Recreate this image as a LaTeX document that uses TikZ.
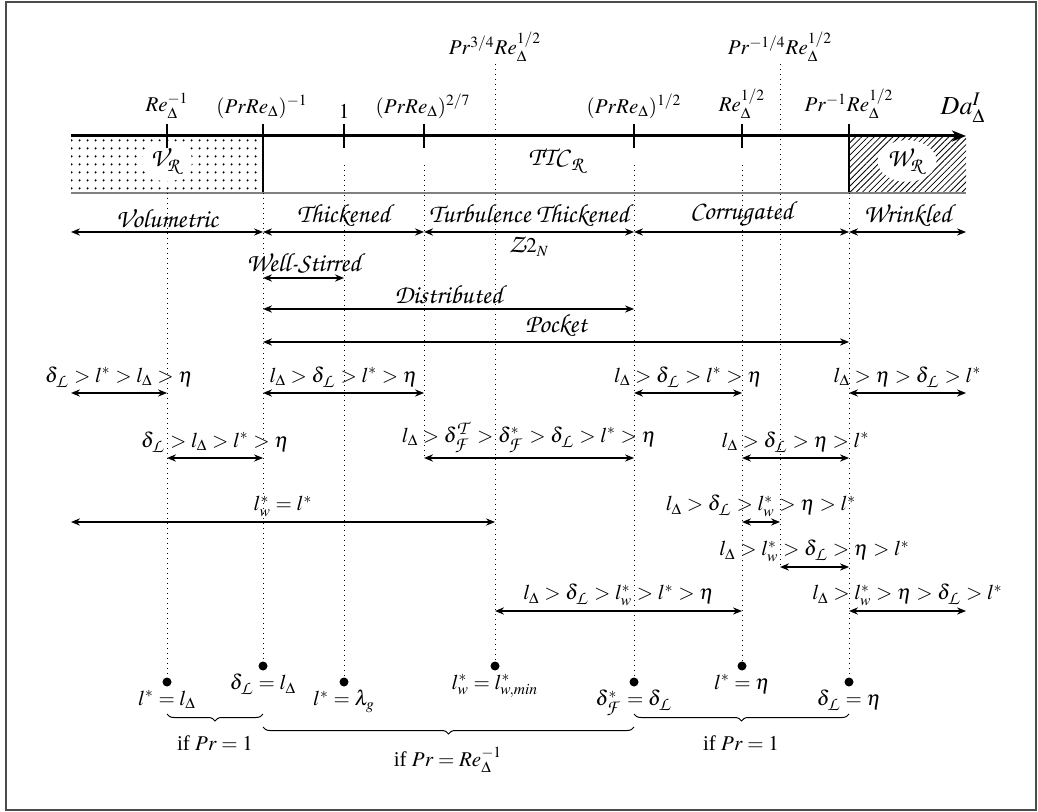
\documentclass[tikz,border=0pt]{standalone}
\usepackage{mathptmx}
\usepackage[no-math]{fontspec}
\setmainfont{Liberation Serif}
\usetikzlibrary{arrows.meta, decorations.pathreplacing, patterns.meta, shapes.geometric}
\DeclareFontFamily{OT1}{pzcx}{}
\DeclareFontShape{OT1}{pzcx}{m}{it}{<-> s*[1.25] pzcmi7t}{}
\DeclareMathAlphabet{\mathzc}{OT1}{pzcx}{m}{it}
\newcommand{\zctext}[1]{{\fontencoding{OT1}\fontfamily{pzcx}\fontseries{m}\fontshape{it}\selectfont #1}}

\begin{document}
\begin{tikzpicture}[x=0.5pt, y=-0.5pt,
    font=\fontsize{10.5}{12.6}\selectfont,
    >={Stealth[length=4.5pt, width=3.6pt, inset=1.5pt]},
    axisline/.style={line width=1.5pt, -{Stealth[length=7pt, width=5.5pt, inset=2pt]}},
    tickmark/.style={line width=1pt},
    guide/.style={dotted, line width=0.5pt},
    span/.style={<->, line width=0.6pt},
    rangelabel/.style={above, inner sep=2pt},
    condlabel/.style={above, inner sep=2.5pt},
    ticklabel/.style={anchor=south, inner sep=1pt},
    limitdot/.style={circle, fill, inner sep=0pt, minimum size=4.5pt},
    limitlabel/.style={anchor=north, inner sep=1.5pt},
    regime/.style={fill=white, ellipse, inner sep=0.5pt},
    cond/.style={decorate, decoration={brace, mirror, amplitude=3.5pt}, line width=0.5pt},
]
\useasboundingbox (0,0) rectangle (1038,812);
\draw[black!70, line width=1pt] (6,2) rectangle (1036,810);

\coordinate (t0) at (71,136);
\coordinate (t1) at (167,136);
\coordinate (t2) at (263,136);
\coordinate (t3) at (344,136);
\coordinate (t4) at (424,136);
\coordinate (t5) at (495,136);
\coordinate (t6) at (634,136);
\coordinate (t7) at (742,136);
\coordinate (t8) at (780,136);
\coordinate (t9) at (849,136);
\coordinate (te) at (966,136);

\coordinate (gtop)  at (0,165);
\coordinate (band)  at (0,193);
\coordinate (rowRg) at (0,232);
\coordinate (rowWs) at (0,278);
\coordinate (rowDs) at (0,309);
\coordinate (rowPk) at (0,342);
\coordinate (rowA)  at (0,393);
\coordinate (rowB)  at (0,458);
\coordinate (rowC)  at (0,522);
\coordinate (rowD)  at (0,567);
\coordinate (rowE)  at (0,611);
\coordinate (br1)   at (0,714);
\coordinate (br2)   at (0,727);

\fill[pattern={Dots[distance=4pt, radius=0.65pt]}] (71,139) rectangle (263,193);
\fill[pattern={Lines[angle=45, distance=2.2pt, line width=0.4pt]}] (849,137) rectangle (966,193);
\draw[line width=0.6pt] (t2) -- (t2 |- band);
\draw[line width=0.6pt] (t9) -- (t9 |- band);
\draw[gray, line width=0.8pt] (t0 |- band) -- (te |- band);

\node[limitdot] (d1) at (167,682) {};
\node[limitdot] (d2) at (263,666) {};
\node[limitdot] (d3) at (344,682) {};
\node[limitdot] (d5) at (495,666) {};
\node[limitdot] (d6) at (634,682) {};
\node[limitdot] (d7) at (742,666) {};
\node[limitdot] (d9) at (849,682) {};

\node[ticklabel] (l1) at (167,121) {$Re^{-1}_\Delta$};
\node[ticklabel] (l2) at (262,121) {$(PrRe_\Delta)^{-1}$};
\node[ticklabel] (l3) at (344,121) {$1$};
\node[ticklabel] (l4) at (423,121) {$(PrRe_\Delta)^{2/7}$};
\node[ticklabel] (l6) at (634,121) {$(PrRe_\Delta)^{1/2}$};
\node[ticklabel] (l7) at (742,121) {$Re^{1/2}_\Delta$};
\node[ticklabel] (l9) at (849,121) {$Pr^{-1}Re^{1/2}_\Delta$};
\node[ticklabel] (l5) at (495,64) {$Pr^{3/4}Re^{1/2}_\Delta$};
\node[ticklabel] (l8) at (780,64) {$Pr^{-1/4}Re^{1/2}_\Delta$};
\node[ticklabel, font=\fontsize{13}{15}\selectfont] (da) at (963,125) {$Da^I_\Delta$};

\draw[guide] (t1 |- band) -- (d1);
\draw[guide] (t2 |- band) -- (d2);
\draw[guide] (t3 |- gtop) -- (d3);
\draw[guide] (t4 |- gtop) -- (t4 |- rowB);
\draw[guide] (l5) -- (d5);
\draw[guide] (t6 |- gtop) -- (d6);
\draw[guide] (t7 |- gtop) -- (d7);
\draw[guide] (l8) -- (t8 |- rowD);
\draw[guide] (t9 |- band) -- (d9);

\node[regime] (vr) at (167,161) {$\mathzc{V}_{\mathzc{R}}$};
\node[regime] (wr) at (907,161) {$\mathzc{W}_{\mathzc{R}}$};
\node (ttc) at (558,161) {$\mathzc{TTC}_{\mathzc{R}}$};

\draw[axisline] (t0) -- (te);
\foreach \t in {t1,t2,t3,t4,t6,t7,t9}
    \draw[tickmark] (\t) ++(0,-12) -- ++(0,24);

\draw[span] (t0 |- rowRg) -- node[rangelabel] (volu) {\zctext{Volumetric}} (t2 |- rowRg);
\draw[span] (t2 |- rowRg) -- node[rangelabel] (thick) {\zctext{Thickened}} (t4 |- rowRg);
\draw[span] (t4 |- rowRg) -- node[rangelabel] (turb) {\zctext{Turbulence Thickened}}
    node[below, inner sep=2pt] (ztwo) {$\mathzc{Z}2_N$} (t6 |- rowRg);
\draw[span] (t6 |- rowRg) -- node[rangelabel] (corr) {\zctext{Corrugated}} (t9 |- rowRg);
\draw[span] (t9 |- rowRg) -- node[rangelabel] (wrin) {\zctext{Wrinkled}} (te |- rowRg);
\draw[span] (t2 |- rowWs) -- node[rangelabel] (wellst) {\zctext{Well-Stirred}} (t3 |- rowWs);
\draw[span] (t2 |- rowDs) -- node[rangelabel] (distr) {\zctext{Distributed}} (t6 |- rowDs);
\draw[span] (t2 |- rowPk) -- node[rangelabel] (pock) {\zctext{Pocket}} (t9 |- rowPk);

\draw[span] (t0 |- rowA) -- node[condlabel] (ca1) {$\delta_{\mathzc{L}} > l^* > l_\Delta > \eta$} (t1 |- rowA);
\draw[span] (t2 |- rowA) -- node[condlabel] (ca2) {$l_\Delta > \delta_{\mathzc{L}} > l^* > \eta$} (t4 |- rowA);
\draw[span] (t6 |- rowA) -- node[condlabel] (ca3) {$l_\Delta > \delta_{\mathzc{L}} > l^* > \eta$} (t7 |- rowA);
\draw[span] (t9 |- rowA) -- node[condlabel] (ca4) {$l_\Delta > \eta > \delta_{\mathzc{L}} > l^*$} (te |- rowA);
\draw[span] (t1 |- rowB) -- node[condlabel] (cb1) {$\delta_{\mathzc{L}} > l_\Delta > l^* > \eta$} (t2 |- rowB);
\draw[span] (t4 |- rowB) -- node[condlabel] (cb2) {$l_\Delta > \delta^{\mathzc{T}}_{\mathzc{F}} > \delta^*_{\mathzc{F}} > \delta_{\mathzc{L}} > l^* > \eta$} (t6 |- rowB);
\draw[span] (t7 |- rowB) -- node[condlabel] (cb3) {$l_\Delta > \delta_{\mathzc{L}} > \eta > l^*$} (t9 |- rowB);
\draw[span] (t0 |- rowC) -- node[condlabel] (cc1) {$l^*_w = l^*$} (t5 |- rowC);
\draw[span] (t7 |- rowC) -- node[condlabel] (cc2) {$l_\Delta > \delta_{\mathzc{L}} > l^*_w > \eta > l^*$} (t8 |- rowC);
\draw[span] (t8 |- rowD) -- node[condlabel] (cd1) {$l_\Delta > l^*_w > \delta_{\mathzc{L}} > \eta > l^*$} (t9 |- rowD);
\draw[span] (t5 |- rowE) -- node[condlabel] (ce1) {$l_\Delta > \delta_{\mathzc{L}} > l^*_w > l^* > \eta$} (t7 |- rowE);
\draw[span] (t9 |- rowE) -- node[condlabel] (ce2) {$l_\Delta > l^*_w > \eta > \delta_{\mathzc{L}} > l^*$} (te |- rowE);

\node[limitlabel] (e1) at (d1.south) {$l^* = l_\Delta$};
\node[limitlabel] (e2) at (d2.south) {$\delta_{\mathzc{L}} = l_\Delta$};
\node[limitlabel] (e3) at (d3.south) {$l^* = \lambda_g$};
\node[limitlabel] (e5) at (d5.south) {$l^*_w = l^*_{w,min}$};
\node[limitlabel] (e6) at (d6.south) {$\delta^*_{\mathzc{F}} = \delta_{\mathzc{L}}$};
\node[limitlabel] (e7) at (d7.south) {$l^* = \eta$};
\node[limitlabel] (e9) at (d9.south) {$\delta_{\mathzc{L}} = \eta$};

\draw[cond] (d1 |- br1) -- (d2 |- br1);
\draw[cond] (d2 |- br2) -- (d6 |- br2);
\draw[cond] (d6 |- br1) -- (d9 |- br1);
\node (if1) at (215,743) {if $Pr = 1$};
\node (if2) at (448,760) {if $Pr = Re^{-1}_\Delta$};
\node (if3) at (741,743) {if $Pr = 1$};
\end{tikzpicture}
\end{document}
